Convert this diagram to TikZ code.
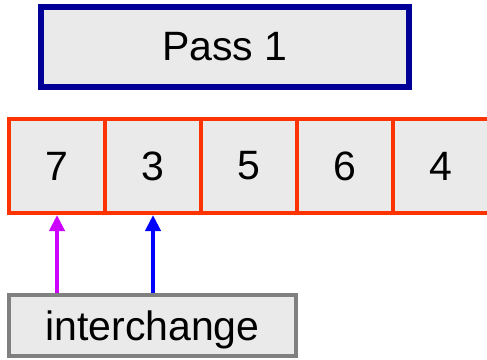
\documentclass[tikz,border=0pt]{standalone}
\usepackage{fontspec}
\setmainfont{Liberation Sans}
\usetikzlibrary{arrows.meta}
\definecolor{azulPass}{HTML}{000099}
\definecolor{rojoCelda}{HTML}{FF3300}
\definecolor{grisCaja}{HTML}{808080}
\definecolor{grisFondo}{HTML}{EAEAEA}
\definecolor{magentaI}{HTML}{CC00FF}
\definecolor{azulJ}{HTML}{0000FF}

\begin{document}
\begin{tikzpicture}[x=1pt,y=-1pt,
    caja/.style={draw,fill=grisFondo,rectangle,inner sep=0pt,
      font=\fontsize{41}{41}\selectfont},
    celda/.style={caja,draw=rojoCelda,line width=4pt,
      minimum width=96pt,minimum height=94pt},
    flecha/.style={line width=4pt,-{Triangle[width=15pt,length=16pt]}}]
          \useasboundingbox (0,0) rectangle (487,359);
          \node[caja,draw=azulPass,line width=6pt,minimum width=368pt,
            minimum height=80pt] (pass) at (225,47) {Pass 1};
          % the array, one cell per value
          \foreach \v [count=\i] in {7,3,5,6,4}
            \node[celda] (c\i) at (57+96*\i-96,166) {\v};
          \node[caja,draw=grisCaja,line width=4pt,minimum width=287pt,
            minimum height=61pt,text depth=0pt] (inter) at (152.5,325.5) {interchange};
          \draw[flecha,magentaI] (inter.north -| c1) -- (c1.south);
          \draw[flecha,azulJ] (inter.north -| c2) -- (c2.south);
        \end{tikzpicture}
\end{document}
